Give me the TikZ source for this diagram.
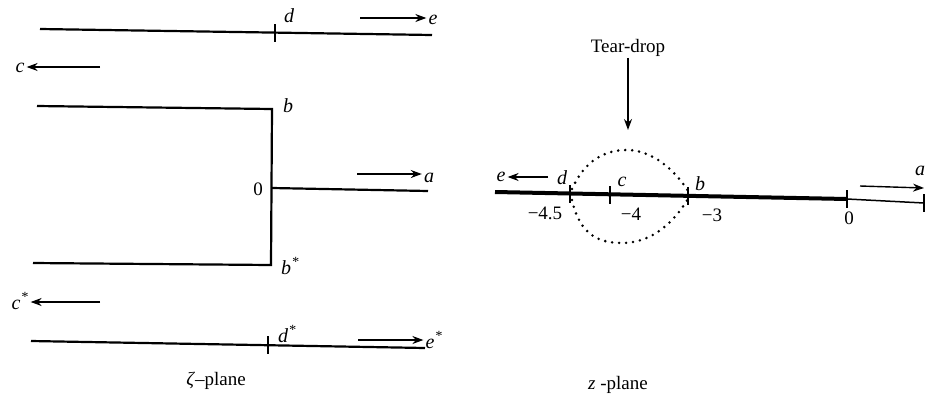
\documentclass[tikz,border=0pt]{standalone}
\usepackage{fontspec}
\setmainfont{Liberation Serif}
\usetikzlibrary{arrows.meta}
\newcommand{\stx}[1]{#1\textsuperscript{\kern0.5pt*}}
\begin{document}
\begin{tikzpicture}[x=1pt,y=-1pt,
  lbl/.style={font=\fontsize{20}{20}\selectfont\itshape, inner sep=2pt},
  num/.style={font=\fontsize{19}{19}\selectfont, inner sep=1pt},
  ttl/.style={font=\fontsize{19}{19}\selectfont, inner sep=1pt},
  cut/.style={line width=2.2pt},
  flow/.style={line width=1.4pt, -{Stealth[length=11pt,width=8pt]}},
  tick/.style={line width=1.4pt},
  drop/.style={line width=2.8pt, dash pattern=on 0pt off 7pt, line cap=round}]
\useasboundingbox (0,0) rectangle (926,405);
% ---------- zeta-plane ----------
\coordinate (tL) at (40,29); \coordinate (tR) at (432,35);
\draw[cut] (tL) -- (tR);
\coordinate (dt1) at (275,24); \coordinate (dt2) at (275,42);
\draw[tick] (dt1) -- (dt2);
\node[lbl] (d) at (289,16) {d};
\node[lbl] (e) at (433,20) {e};
\coordinate (eA) at (360,18);
\draw[flow] (eA) -- (e.west |- eA);
\node[lbl] (c) at (20,68) {c};
\coordinate (cA) at (100,67);
\draw[flow] (cA) -- (c.east |- cA);
\coordinate (b1) at (37,106); \coordinate (b2) at (272,109);
\coordinate (b3) at (271,265); \coordinate (b4) at (33,263);
\draw[cut] (b1) -- (b2) -- (b3) -- (b4);
\node[lbl] (b) at (288,106) {b};
\node[lbl] (bs) at (290,266) {\stx{b}};
\node[num] (z0) at (258,189) {0};
\coordinate (o1) at (272,188); \coordinate (o2) at (428,191);
\draw[cut] (o1) -- (o2);
\node[lbl] (a) at (429,178) {a};
\coordinate (aA) at (357,174);
\draw[flow] (aA) -- (a.west |- aA);
\node[lbl] (cs) at (20,301) {\stx{c}};
\coordinate (csA) at (100,302);
\draw[flow] (csA) -- (cs.east |- csA);
\coordinate (uL) at (31,341); \coordinate (uR) at (425,348);
\draw[cut] (uL) -- (uR);
\coordinate (ut1) at (268,336); \coordinate (ut2) at (268,354);
\draw[tick] (ut1) -- (ut2);
\node[lbl] (ds) at (287,334) {\stx{d}};
\node[lbl] (es) at (434,340) {\stx{e}};
\coordinate (esA) at (358,340);
\draw[flow] (esA) -- (es.west |- esA);
\node[ttl] (zeta) at (216,381) {\textit{ζ}–plane};
% ---------- z-plane ----------
\node[ttl] (tear) at (628,48) {Tear-drop};
\coordinate (tearH) at (628,130);
\draw[flow] (tear) -- (tearH);
\coordinate (m1) at (495,192); \coordinate (m0) at (847,199); \coordinate (m2) at (924,203);
\draw[line width=4pt] (m1) -- (m0);
\draw[line width=1.5pt] (m0) -- (m2);
\coordinate (td1) at (570,185); \coordinate (td2) at (570,203);
\coordinate (tc1) at (610,186); \coordinate (tc2) at (610,204);
\coordinate (tb1) at (688,187); \coordinate (tb2) at (688,205);
\coordinate (t01) at (847,190); \coordinate (t02) at (847,208);
\coordinate (te1) at (924,194); \coordinate (te2) at (924,212);
\draw[tick] (td1) -- (td2);
\draw[tick] (tc1) -- (tc2);
\draw[tick] (tb1) -- (tb2);
\draw[tick] (t01) -- (t02);
\draw[tick] (te1) -- (te2);
\node[lbl] (ze) at (501,177) {e};
\coordinate (zeA) at (548,177);
\draw[flow] (zeA) -- (ze.east |- zeA);
\node[lbl] (zd) at (562,178) {d};
\node[lbl] (zc) at (622,182) {c};
\node[lbl] (zb) at (700,184) {b};
\node[num] (n45) at (545,213) {−4.5};
\node[num] (n4) at (631,214) {−4};
\node[num] (n3) at (712,215) {−3};
\node[num] (n0) at (849,218) {0};
\node[lbl] (za) at (920,171) {a};
\coordinate (zaA) at (860,186); \coordinate (zaB) at (924,188);
\draw[flow] (zaA) -- (zaB);
\draw[drop] (572,189) .. controls (585,160) and (605,150) .. (627,150) .. controls (652,150) and (675,170) .. (688,191);
\draw[drop] (572,200) .. controls (580,236) and (600,243) .. (622,243) .. controls (650,243) and (672,225) .. (688,199);
\node[ttl] (zpl) at (618,385) {\textit{z} -plane};
\end{tikzpicture}
\end{document}
